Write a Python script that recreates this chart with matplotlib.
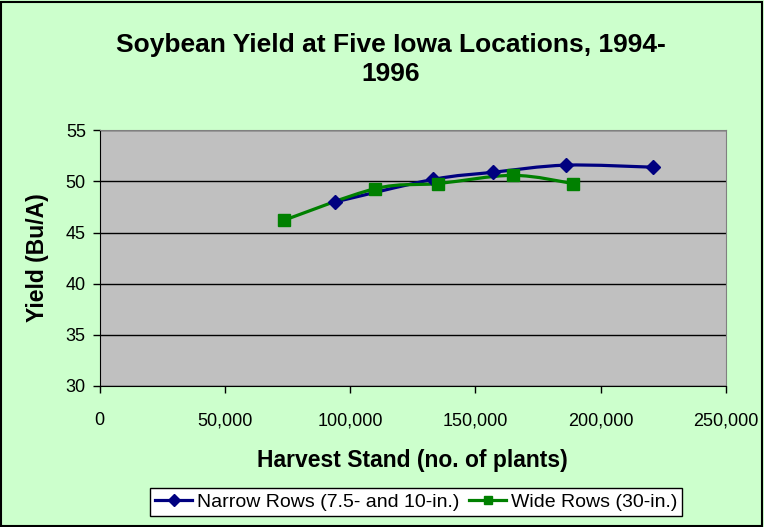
import matplotlib.pyplot as plt
from matplotlib.path import Path
from matplotlib.patches import PathPatch, Rectangle
from matplotlib.lines import Line2D
from matplotlib.ticker import FuncFormatter

plt.rcParams['font.family'] = ['Liberation Sans', 'DejaVu Sans']

# データ
narrow_stand = [94000, 133000, 157000, 186000, 221000]
narrow_yield = [48.0, 50.2, 50.9, 51.6, 51.4]
wide_stand = [73500, 110000, 135000, 165000, 189000]
wide_yield = [46.2, 49.3, 49.8, 50.6, 49.8]

labels = ['Narrow Rows (7.5- and 10-in.)', 'Wide Rows (30-in.)']
colors = ['#000080', '#008000']
markers = ['D', 's']


def smooth_path(xs, ys):
    # Excel風のスムージング線（ベジェ曲線）
    pts = list(zip(xs, ys))
    verts = [pts[0]]
    codes = [Path.MOVETO]
    n = len(pts)
    for i in range(n - 1):
        p0 = pts[i - 1] if i > 0 else pts[i]
        p1 = pts[i]
        p2 = pts[i + 1]
        p3 = pts[i + 2] if i + 2 < n else pts[i + 1]
        c1 = (p1[0] + (p2[0] - p0[0]) / 6, p1[1] + (p2[1] - p0[1]) / 6)
        c2 = (p2[0] - (p3[0] - p1[0]) / 6, p2[1] - (p3[1] - p1[1]) / 6)
        verts += [c1, c2, p2]
        codes += [Path.CURVE4] * 3
    return Path(verts, codes)


fig = plt.figure(figsize=(7.64, 5.27), dpi=100, facecolor='#CCFFCC')
fig.patches.append(Rectangle((0.001, 0.001), 0.997, 0.996, transform=fig.transFigure,
                             fill=False, edgecolor='black', linewidth=1.5))

ax = fig.add_axes([0.1305, 0.268, 0.8197, 0.4845])
ax.set_facecolor('#C0C0C0')

for xs, ys, c, m, ms in [(narrow_stand, narrow_yield, colors[0], markers[0], 7),
                          (wide_stand, wide_yield, colors[1], markers[1], 8.5)]:
    ax.add_patch(PathPatch(smooth_path(xs, ys), fill=False, edgecolor=c, linewidth=2.3, zorder=3))
    ax.plot(xs, ys, linestyle='none', marker=m, markersize=ms, color=c, zorder=4)

ax.set_xlim(0, 250000)
ax.set_ylim(30, 55)
ax.set_xticks(range(0, 250001, 50000))
ax.set_yticks(range(30, 56, 5))
ax.xaxis.set_major_formatter(FuncFormatter(lambda v, p: f'{int(v):,}'))
ax.yaxis.grid(True, color='black', linewidth=1)
ax.set_axisbelow(True)
ax.tick_params(direction='out', length=5, width=1, labelsize=13, colors='black', pad=5)
ax.tick_params(axis='x', pad=14)

for s in ['top', 'right']:
    ax.spines[s].set_color('#808080')
for s in ['left', 'bottom']:
    ax.spines[s].set_color('black')

ax.set_xlabel('Harvest Stand (no. of plants)', fontsize=16.5, fontweight='bold', labelpad=14)
ax.set_ylabel('Yield (Bu/A)', fontsize=16.5, fontweight='bold', labelpad=12)
fig.text(0.512, 0.887, 'Soybean Yield at Five Iowa Locations, 1994-\n1996', ha='center', va='center',
         fontsize=19, fontweight='bold', linespacing=1.25)

handles = [Line2D([], [], color=colors[i], marker=markers[i], linewidth=2.3, markersize=6) for i in range(2)]
leg = fig.legend(handles, labels, loc='center', bbox_to_anchor=(0.545, 0.0475), ncol=2, fontsize=14,
                 frameon=True, fancybox=False, edgecolor='black', framealpha=1,
                 handlelength=1.9, handletextpad=0.25, columnspacing=0.5, borderpad=0.25)
leg.get_frame().set_linewidth(1)

plt.savefig('out.png', dpi=100, facecolor=fig.get_facecolor())
